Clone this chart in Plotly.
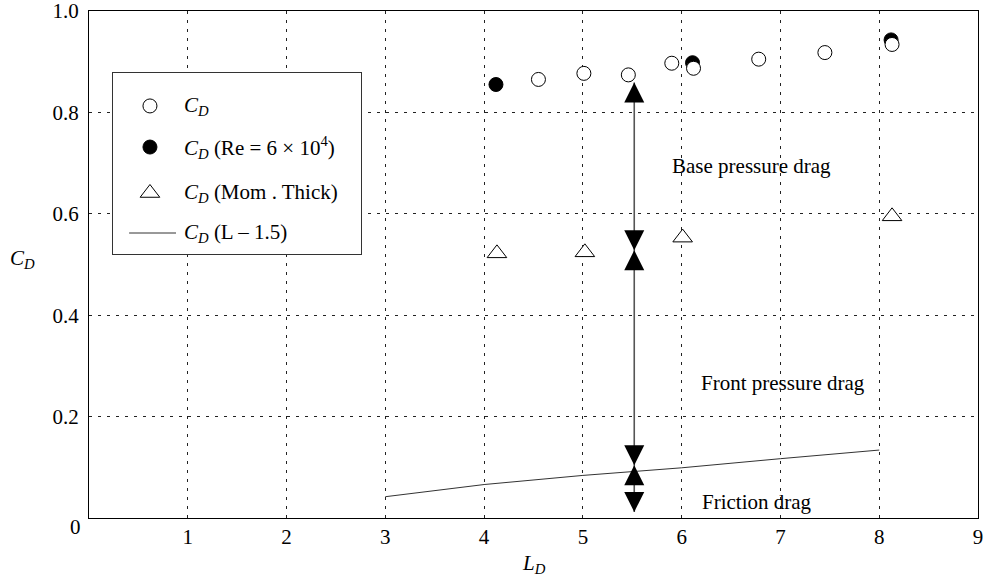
import plotly.graph_objects as go

# Total drag coefficient vs length/diameter
ld_cd = [4.55, 5.01, 5.46, 5.90, 6.12, 6.78, 7.45, 8.13]
cd = [0.865, 0.877, 0.874, 0.897, 0.887, 0.905, 0.918, 0.934]

# Total drag coefficient at Re = 6e4
ld_re = [4.12, 6.11, 8.12]
cd_re = [0.855, 0.898, 0.943]

# Drag coefficient from momentum thickness
ld_mom = [4.13, 5.02, 6.01, 8.13]
cd_mom = [0.522, 0.524, 0.553, 0.595]

# Friction drag estimate C_D(L - 1.5)
ld_fric = [3, 4, 5, 6, 7, 8]
cd_fric = [0.042, 0.066, 0.084, 0.099, 0.117, 0.134]

# Drag breakdown arrows at a single L/D
arrow_ld = 5.52
arrow_tips = [0.859, 0.528, 0.528, 0.104, 0.104, 0.012]
arrow_dirs = ["up", "down", "up", "down", "up", "down"]

# Region labels
region_text = ["Base pressure drag", "Front pressure drag", "Friction drag"]
region_x = [6.71, 7.03, 6.76]
region_y = [0.694, 0.266, 0.031]

x_ticks = [1, 2, 3, 4, 5, 6, 7, 8, 9]
y_ticks = [0.2, 0.4, 0.6, 0.8, 1.0]
y_ticktext = ["0.2", "0.4", "0.6", "0.8", "1.0"]

legend_labels = [
    "<i>C<sub>D</sub></i>",
    "<i>C<sub>D</sub></i> (Re = 6 \u00d7 10<sup>4</sup>)",
    "<i>C<sub>D</sub></i> (Mom . Thick)",
    "<i>C<sub>D</sub></i> (L \u2013 1.5)",
]

FONT = "Liberation Serif, Times New Roman, serif"
FS = 21

fig = go.Figure()

# friction line
fig.add_trace(go.Scatter(x=ld_fric, y=cd_fric, mode="lines",
                         line=dict(color="#333", width=1)))

# vertical breakdown line
fig.add_trace(go.Scatter(x=[arrow_ld, arrow_ld], y=[min(arrow_tips), max(arrow_tips)],
                         mode="lines", line=dict(color="#555", width=1.6)))

# arrowheads (tip located at the data point)
fig.add_trace(go.Scatter(
    x=[arrow_ld] * len(arrow_tips), y=arrow_tips, mode="markers",
    marker=dict(symbol=["arrow-up" if d == "up" else "arrow-down" for d in arrow_dirs],
                size=20, color="black", line=dict(width=0))))

# filled circles (Re = 6e4) drawn beneath open circles
fig.add_trace(go.Scatter(x=ld_re, y=cd_re, mode="markers",
                         marker=dict(symbol="circle", size=14, color="black",
                                     line=dict(color="black", width=1))))
fig.add_trace(go.Scatter(x=ld_cd, y=cd, mode="markers",
                         marker=dict(symbol="circle", size=14, color="white",
                                     line=dict(color="black", width=1))))
fig.add_trace(go.Scatter(x=ld_mom, y=cd_mom, mode="markers",
                         marker=dict(symbol="triangle-up", size=17, color="white",
                                     line=dict(color="black", width=1))))

for t, x, y in zip(region_text, region_x, region_y):
    fig.add_annotation(x=x, y=y, xref="x", yref="y", text=t, showarrow=False,
                       font=dict(family=FONT, size=FS, color="black"))

# --- legend box drawn as an inset subplot (range 0..1, y downward) ---
leg_mx = 0.149
leg_tx = 0.278
leg_rows = [0.182, 0.409, 0.663, 0.884]
fig.add_trace(go.Scatter(x=[leg_mx], y=[leg_rows[0]], mode="markers", xaxis="x2", yaxis="y2",
                         marker=dict(symbol="circle", size=14, color="white",
                                     line=dict(color="black", width=1))))
fig.add_trace(go.Scatter(x=[leg_mx], y=[leg_rows[1]], mode="markers", xaxis="x2", yaxis="y2",
                         marker=dict(symbol="circle", size=14, color="black",
                                     line=dict(color="black", width=1))))
fig.add_trace(go.Scatter(x=[leg_mx], y=[leg_rows[2]], mode="markers", xaxis="x2", yaxis="y2",
                         marker=dict(symbol="triangle-up", size=17, color="white",
                                     line=dict(color="black", width=1))))
fig.add_trace(go.Scatter(x=[0.065, 0.254], y=[leg_rows[3], leg_rows[3]], mode="lines",
                         xaxis="x2", yaxis="y2", line=dict(color="#333", width=1)))
for lab, ry in zip(legend_labels, leg_rows):
    fig.add_annotation(x=leg_tx, y=ry, xref="x2", yref="y2", text=lab, showarrow=False,
                       xanchor="left", yanchor="middle",
                       font=dict(family=FONT, size=FS, color="black"))

# axis titles and the shared corner "0"
fig.add_annotation(x=0.5, y=0, xref="paper", yref="paper", text="<i>L<sub>D</sub></i>",
                   showarrow=False, yanchor="top", yshift=-31,
                   font=dict(family=FONT, size=FS, color="black"))
fig.add_annotation(x=0, y=0.5, xref="paper", yref="paper", text="<i>C<sub>D</sub></i>",
                   showarrow=False, xanchor="center", xshift=-67, yshift=6,
                   font=dict(family=FONT, size=FS, color="black"))
fig.add_annotation(x=0, y=0, xref="paper", yref="paper", text="0", showarrow=False,
                   xanchor="right", yanchor="middle", xshift=-6, yshift=-9,
                   font=dict(family=FONT, size=FS, color="black"))

grid = dict(showgrid=True, gridcolor="#222", gridwidth=1, griddash="3px,6px",
            showline=True, linecolor="black", linewidth=1, mirror=True,
            zeroline=False, ticks="", automargin=False, ticklabeloverflow="allow",
            tickfont=dict(family=FONT, size=FS, color="black"))

fig.update_layout(
    width=989, height=579,
    margin=dict(l=89, r=11, t=11, b=61, autoexpand=False),
    plot_bgcolor="white", paper_bgcolor="white",
    showlegend=False,
    font=dict(family=FONT, size=FS, color="black"),
    xaxis=dict(range=[0, 9], tickvals=x_ticks, ticklabelstandoff=0, **grid),
    yaxis=dict(range=[0, 1], tickvals=y_ticks, ticktext=y_ticktext, ticklabelstandoff=5, **grid),
    xaxis2=dict(domain=[0.027, 0.306], anchor="y2", range=[0, 1], showgrid=False,
                zeroline=False, showticklabels=False, ticks="", showline=True,
                linecolor="#333", linewidth=1, mirror=True, fixedrange=True),
    yaxis2=dict(domain=[0.5207, 0.8777], anchor="x2", range=[1, 0], showgrid=False,
                zeroline=False, showticklabels=False, ticks="", showline=True,
                linecolor="#333", linewidth=1, mirror=True, fixedrange=True),
)

fig.write_html("out.html")
